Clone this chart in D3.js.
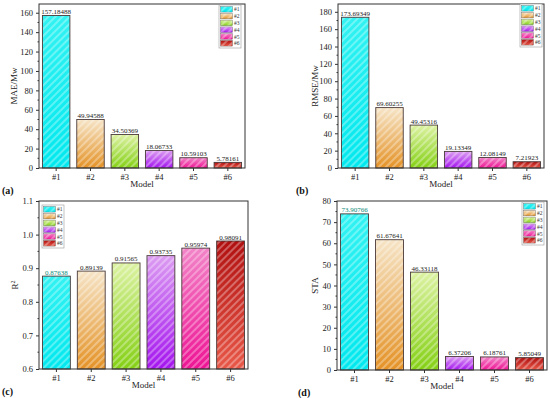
<!DOCTYPE html>
<html>
<head>
<meta charset="utf-8">
<script src="https://cdn.jsdelivr.net/npm/d3@7/dist/d3.min.js"></script>
<style>
  body { margin: 0; background: #fff; }
  svg { display: block; font-family: "Liberation Serif", "DejaVu Serif", serif; }
</style>
</head>
<body>
<svg id="chart" width="550" height="398"></svg>
<script>
"use strict";

// data
const models = ["#1", "#2", "#3", "#4", "#5", "#6"];
const maeValues = [157.18488, 49.94588, 34.50369, 18.06733, 10.59103, 5.78161];
const rmseValues = [173.69349, 69.60255, 49.45316, 19.13349, 12.08149, 7.21923];
const r2Values = [0.87638, 0.89139, 0.91565, 0.93735, 0.95974, 0.98091];
const staValues = [73.90766, 61.67641, 46.33118, 6.37206, 6.18761, 5.85049];
const maeTicks = [0, 20, 40, 60, 80, 100, 120, 140, 160];
const rmseTicks = [0, 20, 40, 60, 80, 100, 120, 140, 160, 180];
const r2Ticks = [0.6, 0.7, 0.8, 0.9, 1.0, 1.1];
const staTicks = [0, 10, 20, 30, 40, 50, 60, 70, 80];

// top / bottom colours of each model's gradient
const topColors = ["#33f2f2", "#f6e4c6", "#dcf2a2", "#dc9cf2", "#f284c8", "#b01010"];
const bottomColors = ["#00e8ee", "#e49226", "#84d014", "#a414ee", "#ee1494", "#e85848"];

const svg = d3.select("#chart");
const defs = svg.append("defs");

models.forEach(function(m, i) {
    const g = defs.append("linearGradient")
        .attr("id", "grad" + i)
        .attr("x1", 0).attr("y1", 0).attr("x2", 0).attr("y2", 1);
    g.append("stop").attr("offset", "0%").attr("stop-color", topColors[i]);
    g.append("stop").attr("offset", "100%").attr("stop-color", bottomColors[i]);
});

const hatch = defs.append("pattern")
    .attr("id", "hatch")
    .attr("patternUnits", "userSpaceOnUse")
    .attr("width", 5).attr("height", 5)
    .attr("patternTransform", "rotate(45)");
hatch.append("line")
    .attr("x1", 1).attr("y1", 0).attr("x2", 1).attr("y2", 5)
    .attr("stroke", "#fff").attr("stroke-width", 1.4).attr("stroke-opacity", 0.45);

function drawPanel(cfg) {
    const g = svg.append("g");
    const x = d3.scaleBand().domain(models).range([cfg.left, cfg.right]).paddingInner(0.2).paddingOuter(0.1);
    const y = d3.scaleLinear().domain(cfg.domain).range([cfg.bottom, cfg.top]);
    const base = cfg.domain[0];

    // bars
    const bars = g.selectAll(".bar").data(cfg.values).enter().append("g");
    bars.append("rect")
        .attr("x", (d, i) => x(models[i]))
        .attr("y", d => y(d))
        .attr("width", x.bandwidth())
        .attr("height", d => y(base) - y(d))
        .attr("fill", (d, i) => "url(#grad" + i + ")");
    bars.append("rect")
        .attr("x", (d, i) => x(models[i]))
        .attr("y", d => y(d))
        .attr("width", x.bandwidth())
        .attr("height", d => y(base) - y(d))
        .attr("fill", "url(#hatch)")
        .attr("stroke", "#4a3a3a").attr("stroke-width", 0.9);

    // value labels
    bars.append("text")
        .attr("x", (d, i) => x(models[i]) + x.bandwidth() / 2)
        .attr("y", d => y(d) - 1.5)
        .attr("text-anchor", "middle")
        .attr("font-size", 7)
        .attr("fill", (d, i) => (i === 0 && cfg.firstTeal) ? "#0a8a7a" : "#222")
        .text((d, i) => cfg.labels[i]);

    // axes
    const yAxis = d3.axisLeft(y).tickValues(cfg.ticks).tickSize(3).tickFormat(cfg.fmt);
    g.append("g").attr("transform", "translate(" + cfg.left + ",0)").call(yAxis)
        .attr("font-family", "Liberation Serif");
    const xAxis = d3.axisBottom(x).tickSize(3).tickSizeOuter(0);
    g.append("g").attr("transform", "translate(0," + cfg.bottom + ")").call(xAxis)
        .attr("font-family", "Liberation Serif");
    g.selectAll(".domain").remove();
    g.selectAll(".tick line").attr("stroke", "#333");
    g.selectAll(".tick text").attr("font-size", 8.5).attr("fill", "#222");

    // minor ticks
    const step = cfg.ticks[1] - cfg.ticks[0];
    const minor = cfg.ticks.slice(0, -1).map(t => t + step / 2);
    g.selectAll(".minor").data(minor).enter().append("line")
        .attr("x1", cfg.left - 1.5).attr("x2", cfg.left)
        .attr("y1", d => y(d)).attr("y2", d => y(d))
        .attr("stroke", "#333");

    // frame
    g.append("rect")
        .attr("x", cfg.left).attr("y", cfg.top)
        .attr("width", cfg.right - cfg.left).attr("height", cfg.bottom - cfg.top)
        .attr("fill", "none").attr("stroke", "#333").attr("stroke-width", 1);

    // axis titles
    g.append("text")
        .attr("transform", "translate(" + cfg.ylabX + "," + ((cfg.top + cfg.bottom) / 2) + ") rotate(-90)")
        .attr("text-anchor", "middle").attr("font-size", 9).attr("fill", "#222")
        .html(cfg.ylabel);
    g.append("text")
        .attr("x", (cfg.left + cfg.right) / 2).attr("y", cfg.bottom + 19)
        .attr("text-anchor", "middle").attr("font-size", 9).attr("fill", "#222")
        .text("Model");
    g.append("text")
        .attr("x", cfg.tagX).attr("y", cfg.bottom + 26)
        .attr("font-size", 10).attr("font-weight", "bold").attr("fill", "#111")
        .text(cfg.tag);

    // legend
    const lg = g.append("g").attr("transform", "translate(" + cfg.legX + "," + cfg.legY + ")");
    lg.append("rect").attr("x", 0).attr("y", 0).attr("width", 22).attr("height", 43)
        .attr("fill", "#fff").attr("stroke", "#999").attr("stroke-width", 0.6);
    models.forEach(function(m, i) {
        lg.append("rect").attr("x", 1.5).attr("y", 1.5 + i * 6.8).attr("width", 12).attr("height", 5.6)
            .attr("fill", "url(#grad" + i + ")");
        lg.append("rect").attr("x", 1.5).attr("y", 1.5 + i * 6.8).attr("width", 12).attr("height", 5.6)
            .attr("fill", "url(#hatch)").attr("stroke", "#666").attr("stroke-width", 0.4);
        lg.append("text").attr("x", 15).attr("y", 6.3 + i * 6.8)
            .attr("font-size", 5.5).attr("fill", "#333").text(m);
    });
}

drawPanel({
    values: maeValues, labels: maeValues.map(String), ticks: maeTicks, domain: [0, 169],
    left: 39, right: 245, top: 4, bottom: 168, fmt: d3.format("d"),
    ylabel: "MAE/Mw", ylabX: 17, tag: "(a)", tagX: 2, legX: 219, legY: 5
});
drawPanel({
    values: rmseValues, labels: rmseValues.map(String), ticks: rmseTicks, domain: [0, 189],
    left: 338, right: 544, top: 4, bottom: 168, fmt: d3.format("d"),
    ylabel: "RMSE/Mw", ylabX: 318, tag: "(b)", tagX: 296, legX: 520, legY: 4
});
drawPanel({
    values: r2Values, labels: r2Values.map(v => v.toFixed(5)), ticks: r2Ticks, domain: [0.6, 1.1],
    left: 39, right: 248, top: 201, bottom: 369, fmt: d3.format(".1f"), firstTeal: true,
    ylabel: "R<tspan dy='-3' font-size='6'>2</tspan>", ylabX: 18, tag: "(c)", tagX: 2, legX: 42, legY: 205
});
drawPanel({
    values: staValues, labels: staValues.map(v => v.toFixed(5)), ticks: staTicks, domain: [0, 80],
    left: 337, right: 547, top: 201, bottom: 370, fmt: d3.format("d"), firstTeal: true,
    ylabel: "STA", ylabX: 318, tag: "(d)", tagX: 298, legX: 522, legY: 202
});
</script>
</body>
</html>
